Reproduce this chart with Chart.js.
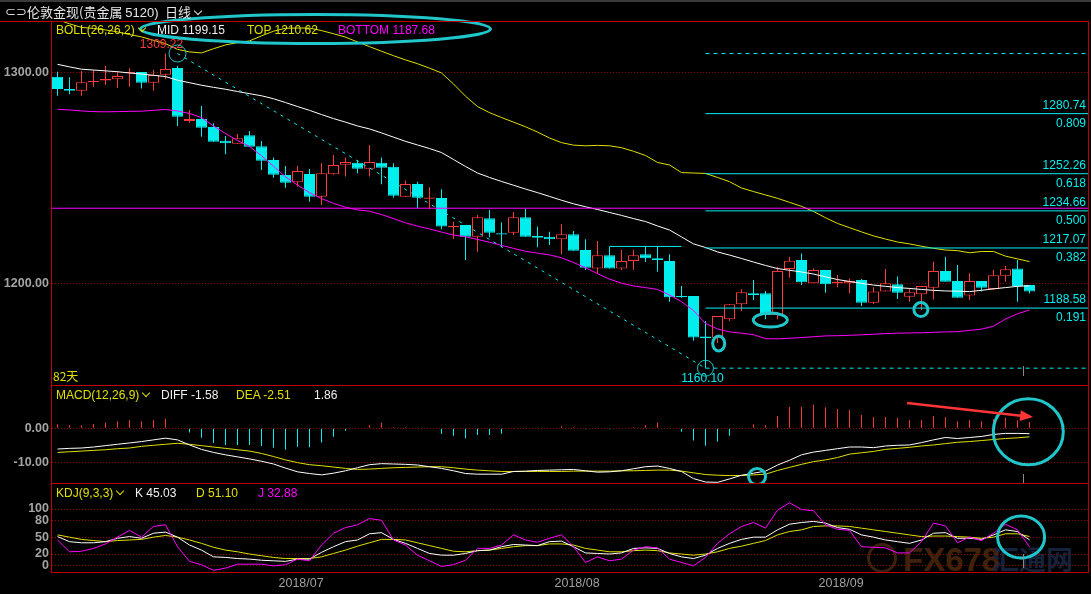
<!DOCTYPE html>
<html>
<head>
<meta charset="utf-8">
<script src="https://cdn.jsdelivr.net/npm/chart.js@4.4.1/dist/chart.umd.min.js"></script>
<style>
  body { margin: 0; background: #000; width: 1091px; height: 594px; overflow: hidden; position: relative;
         font-family: "Liberation Sans", Arial, sans-serif; }
  canvas { position: absolute; left: 0; }
  .t { position: absolute; font-size: 12px; line-height: 12px; white-space: nowrap; z-index: 6; }
  .ln { position: absolute; background: #c00000; z-index: 5; }
  .chev { display: inline-block; width: 5px; height: 5px; border-right: 1px solid currentColor;
          border-bottom: 1px solid currentColor; transform: rotate(45deg); margin: 0 0 3px 4px; }
  .wm { position: absolute; font-weight: bold; font-size: 33px; line-height: 33px; z-index: 1; }
</style>
</head>
<body>
<div style="position:absolute;left:0;top:0;width:1091px;height:2px;background:#3a3a3a"></div>
<div class="t" style="left:5px;top:5px;font-size:13px;line-height:14px;color:#d8d8d8">⊂⊃</div>
<div class="t" style="left:27px;top:5px;font-size:13px;line-height:14px;color:#e6e6e6;font-family:'Noto Sans CJK SC',sans-serif">伦敦金现(贵金属 <span style="font-family:'Liberation Sans',Arial">5120)</span></div>
<div class="t" style="left:165px;top:5px;font-size:13px;line-height:14px;color:#e6e6e6;font-family:'Noto Sans CJK SC',sans-serif">日线<span class="chev"></span></div>

<div class="wm" style="left:867px;top:543px;width:24px;height:24px;border:3px solid #3e200e;border-radius:50%;"></div>
<div class="wm" style="left:903px;top:543px;color:#40220c">FX678</div>
<div class="wm" style="left:992px;top:544px;color:#16223c;font-family:'Noto Sans CJK SC',sans-serif;font-size:27px;line-height:30px">汇通网</div>

<canvas id="cMain" width="1091" height="386" style="top:0;z-index:2"></canvas>
<canvas id="cMacd" width="1091" height="98" style="top:385px;z-index:2"></canvas>
<canvas id="cKdj" width="1091" height="111" style="top:483px;z-index:2"></canvas>

<div class="ln" style="left:0;top:21px;width:1089px;height:1px"></div>
<div class="ln" style="left:51px;top:21px;width:1px;height:552px"></div>
<div class="ln" style="left:1088px;top:21px;width:1px;height:552px"></div>
<div class="ln" style="left:51px;top:385px;width:1038px;height:1px"></div>
<div class="ln" style="left:51px;top:483px;width:1038px;height:1px"></div>
<div class="ln" style="left:51px;top:572px;width:1038px;height:1px"></div>
<div class="ln" style="left:1023px;top:366px;width:1px;height:10px;background:#8a8a8a"></div>
<div class="ln" style="left:1023px;top:474px;width:1px;height:9px;background:#8a8a8a"></div>
<div class="ln" style="left:1023px;top:554px;width:1px;height:14px;background:#8a8a8a"></div>

<div class="t" style="left:56px;top:24px;color:#e0e000">BOLL(26,26,2)<span class="chev"></span></div>
<div class="t" style="left:157px;top:24px;color:#f0f0f0">MID 1199.15</div>
<div class="t" style="left:247px;top:24px;color:#e0e000">TOP 1210.62</div>
<div class="t" style="left:338px;top:24px;color:#ff00ff">BOTTOM 1187.68</div>
<div class="t" style="left:53px;top:370px;color:#e0e000;font-family:'Noto Sans CJK SC',sans-serif">82天</div>

<div class="t" style="left:56px;top:389px;color:#e0e000">MACD(12,26,9)<span class="chev"></span></div>
<div class="t" style="left:161px;top:389px;color:#f0f0f0">DIFF -1.58</div>
<div class="t" style="left:236px;top:389px;color:#e0e000">DEA -2.51</div>
<div class="t" style="left:314px;top:389px;color:#f0f0f0">1.86</div>

<div class="t" style="left:56px;top:487px;color:#e0e000">KDJ(9,3,3)<span class="chev"></span></div>
<div class="t" style="left:135px;top:487px;color:#f0f0f0">K 45.03</div>
<div class="t" style="left:196px;top:487px;color:#e0e000">D 51.10</div>
<div class="t" style="left:258px;top:487px;color:#ff00ff">J 32.88</div>

<script>
const candleOpen = [1298.2, 1292.4, 1291.6, 1295.7, 1296.4, 1297.0, 1299.9, 1300.5, 1295.4, 1299.2,
  1302.4, 1277.3, 1278.2, 1274.4, 1267.9, 1266.5, 1270.5, 1265.3, 1258.8, 1251.7,
  1248.2, 1252.1, 1241.4, 1252.0, 1256.5, 1257.5, 1254.6, 1257.5, 1255.6, 1241.4,
  1247.4, 1240.4, 1240.8, 1226.9, 1228.0, 1222.4, 1231.1, 1224.0, 1224.3, 1231.6,
  1222.7, 1222.4, 1221.2, 1223.6, 1216.1, 1207.4, 1213.6, 1207.4, 1210.9, 1214.1,
  1212.2, 1210.9, 1194.3, 1194.3, 1175.1, 1174.5, 1183.3, 1190.4, 1195.6, 1195.6,
  1185.3, 1207.1, 1211.4, 1200.3, 1206.6, 1200.3, 1200.3, 1201.9, 1191.1, 1196.4,
  1199.9, 1194.0, 1195.1, 1198.2, 1206.2, 1201.4, 1194.5, 1201.4, 1197.6, 1203.9,
  1207.4, 1199.5];
const candleHigh = [1300.6, 1298.0, 1301.0, 1301.4, 1303.3, 1301.0, 1302.2, 1300.5, 1301.4, 1309.22,
  1303.3, 1282.5, 1284.4, 1276.2, 1270.1, 1271.1, 1272.5, 1267.8, 1260.0, 1255.9,
  1255.9, 1254.5, 1257.2, 1261.1, 1260.0, 1258.8, 1265.9, 1260.0, 1257.2, 1249.0,
  1248.5, 1245.8, 1244.9, 1229.5, 1228.0, 1232.7, 1235.1, 1229.2, 1234.1, 1235.5,
  1227.2, 1224.8, 1228.3, 1225.1, 1221.2, 1220.4, 1217.7, 1216.1, 1216.1, 1217.7,
  1217.7, 1214.1, 1199.1, 1194.3, 1182.5, 1184.8, 1190.4, 1197.5, 1201.9, 1196.7,
  1208.2, 1212.9, 1214.5, 1207.4, 1206.6, 1204.3, 1202.7, 1202.4, 1198.4, 1207.1,
  1203.5, 1198.0, 1199.1, 1210.6, 1212.9, 1209.0, 1205.1, 1201.4, 1206.6, 1208.5,
  1211.4, 1199.5];
const candleLow = [1289.2, 1289.9, 1289.2, 1293.5, 1294.3, 1293.0, 1293.5, 1292.7, 1291.6, 1297.0,
  1274.9, 1276.4, 1269.8, 1267.4, 1261.5, 1266.5, 1265.1, 1254.0, 1250.4, 1245.6,
  1246.1, 1239.0, 1237.4, 1251.8, 1250.9, 1252.5, 1250.9, 1247.3, 1240.9, 1241.4,
  1235.9, 1235.4, 1225.9, 1221.3, 1211.4, 1215.3, 1222.1, 1217.4, 1223.2, 1222.4,
  1217.4, 1218.5, 1214.1, 1215.8, 1206.6, 1204.7, 1207.4, 1206.6, 1206.6, 1210.6,
  1205.8, 1191.6, 1193.5, 1173.1, 1160.1, 1172.0, 1182.5, 1187.2, 1192.4, 1183.3,
  1183.3, 1203.0, 1199.5, 1200.3, 1195.9, 1198.4, 1195.6, 1189.6, 1190.5, 1196.4,
  1192.9, 1191.6, 1187.7, 1192.7, 1201.1, 1193.5, 1192.4, 1196.4, 1197.2, 1201.1,
  1191.6, 1195.5];
const candleClose = [1292.4, 1291.6, 1295.6, 1296.2, 1297.2, 1298.6, 1300.5, 1295.4, 1299.1, 1301.9,
  1279.3, 1278.2, 1274.1, 1267.4, 1266.7, 1269.1, 1265.1, 1258.4, 1251.8, 1248.0,
  1253.6, 1241.4, 1252.5, 1256.4, 1257.8, 1254.6, 1257.8, 1255.1, 1241.8, 1247.4,
  1240.9, 1241.0, 1227.2, 1227.6, 1222.4, 1231.6, 1224.3, 1223.4, 1231.6, 1222.4,
  1221.9, 1221.2, 1223.6, 1215.8, 1207.7, 1213.6, 1207.4, 1210.9, 1213.6, 1212.2,
  1211.4, 1193.7, 1193.7, 1174.7, 1174.3, 1184.8, 1190.4, 1196.1, 1194.8, 1185.3,
  1206.2, 1211.0, 1200.8, 1206.6, 1199.9, 1201.1, 1201.4, 1191.1, 1196.4, 1200.3,
  1195.9, 1196.1, 1199.1, 1206.2, 1201.1, 1193.5, 1201.4, 1198.2, 1204.1, 1207.0,
  1199.1, 1196.4];

const bollMid = [1304.1, 1302.9, 1301.8, 1301.4, 1301.0, 1300.6, 1300.0, 1299.5, 1298.9, 1298.3,
  1296.6, 1295.4, 1294.2, 1293.2, 1292.3, 1291.2, 1290.2, 1289.2, 1287.8, 1286.0,
  1284.1, 1282.3, 1280.3, 1278.4, 1276.7, 1274.9, 1273.5, 1271.6, 1269.6, 1267.6,
  1265.9, 1264.2, 1262.3, 1259.0, 1255.7, 1252.6, 1250.5, 1248.6, 1246.8, 1245.0,
  1243.3, 1241.5, 1239.7, 1238.0, 1236.6, 1235.3, 1233.9, 1232.5, 1231.0, 1229.6,
  1227.5, 1225.6, 1222.3, 1219.0, 1217.3, 1215.2, 1213.7, 1212.1, 1210.4, 1208.8,
  1207.3, 1206.5, 1205.7, 1204.7, 1203.4, 1202.1, 1201.2, 1200.3, 1199.5, 1198.9,
  1198.3, 1197.9, 1197.4, 1197.0, 1196.7, 1196.6, 1196.4, 1197.0, 1197.7, 1198.3,
  1198.9, 1199.15];
const bollTop = [1325.4, 1323.3, 1321.6, 1321.1, 1320.4, 1319.5, 1318.2, 1317.1, 1315.5, 1313.9,
  1311.2, 1310.0, 1309.5, 1311.5, 1313.3, 1314.4, 1315.2, 1317.6, 1319.8, 1321.2,
  1321.3, 1321.3, 1320.1, 1318.6, 1317.0, 1314.7, 1312.5, 1310.3, 1308.2, 1306.2,
  1304.4, 1302.3, 1300.0, 1294.8, 1289.0, 1284.1, 1281.2, 1278.9, 1276.7, 1274.5,
  1272.0, 1269.2, 1267.0, 1265.8, 1265.5, 1265.7, 1265.5, 1264.6, 1262.9, 1260.9,
  1257.6, 1256.4, 1252.8, 1252.6, 1252.4, 1250.5, 1248.5, 1245.5, 1243.8, 1242.2,
  1240.6, 1238.7, 1236.8, 1234.4, 1231.4, 1228.7, 1226.7, 1224.7, 1222.8, 1221.3,
  1219.9, 1219.0, 1217.9, 1216.9, 1216.1, 1215.8, 1214.8, 1215.4, 1215.4, 1213.2,
  1211.9, 1210.62];
const bollBottom = [1282.8, 1282.5, 1282.0, 1281.7, 1281.6, 1281.7, 1281.8, 1281.9, 1282.3, 1282.7,
  1282.0, 1280.8, 1278.9, 1274.9, 1271.3, 1268.0, 1265.2, 1260.8, 1255.8, 1250.8,
  1246.9, 1243.3, 1240.5, 1238.2, 1236.4, 1235.1, 1234.5, 1232.9, 1231.0, 1229.0,
  1227.4, 1226.1, 1224.6, 1223.2, 1222.4, 1221.1, 1219.8, 1218.3, 1216.9, 1215.5,
  1214.6, 1213.8, 1212.4, 1210.2, 1207.7, 1204.9, 1202.3, 1200.4, 1199.1, 1198.3,
  1197.4, 1194.8, 1191.6, 1187.4, 1181.3, 1178.7, 1177.3, 1176.7, 1176.0, 1174.1,
  1174.0, 1174.3, 1174.6, 1175.0, 1175.4, 1175.5, 1175.7, 1175.9, 1176.2, 1176.5,
  1176.7, 1176.8, 1176.9, 1177.1, 1177.3, 1177.4, 1178.0, 1178.6, 1180.0, 1183.4,
  1185.9, 1187.68];

const macdDiff = [-6.1, -5.9, -5.8, -5.5, -5.1, -4.7, -4.3, -3.9, -3.4, -2.9,
  -3.4, -4.9, -6.2, -7.1, -7.8, -8.4, -9.0, -9.7, -10.5, -11.7,
  -12.8, -13.3, -13.7, -13.2, -12.5, -11.6, -10.7, -10.4, -10.5, -10.6,
  -10.8, -11.3, -11.8, -12.5, -13.3, -13.5, -13.5, -13.5, -12.7, -12.6,
  -12.4, -12.3, -12.2, -12.1, -12.5, -12.9, -12.8, -12.5, -11.9, -11.3,
  -11.1, -11.8, -12.7, -14.8, -15.8, -15.9, -14.9, -13.8, -13.2, -12.6,
  -10.8, -9.4, -7.8, -7.0, -6.5, -6.0, -5.5, -5.5, -5.7, -5.2,
  -5.0, -4.9, -4.2, -3.4, -2.7, -3.0, -2.7, -2.4, -1.8, -1.5,
  -1.5, -1.58];
const macdDea = [-7.1, -6.9, -6.7, -6.5, -6.3, -6.0, -5.8, -5.3, -5.0, -4.7,
  -4.4, -4.7, -5.1, -5.5, -5.9, -6.3, -6.7, -7.4, -8.3, -9.3,
  -10.1, -10.7, -11.0, -11.4, -11.8, -12.1, -12.0, -11.8, -11.6, -11.5,
  -11.4, -11.3, -11.3, -11.6, -12.0, -12.3, -12.5, -12.7, -12.7, -12.7,
  -12.7, -12.7, -12.7, -12.6, -12.6, -12.6, -12.6, -12.5, -12.5, -12.4,
  -12.3, -12.3, -12.6, -13.1, -13.6, -13.8, -13.9, -13.9, -13.7, -13.5,
  -12.4, -11.5, -10.6, -9.8, -9.3, -8.6, -7.6, -7.2, -6.8, -6.2,
  -5.9, -5.6, -5.2, -4.9, -4.5, -4.1, -3.9, -3.6, -3.3, -3.0,
  -2.8, -2.51];
const macdHist = [1.2, 0.9, 0.9, 1.3, 1.6, 2.1, 2.4, 2.1, 2.4, 2.8,
  0.2, -1.2, -2.8, -4.3, -4.9, -4.9, -4.9, -5.2, -5.7, -6.3,
  -5.4, -5.6, -4.2, -2.5, -0.7, -0.1, 1.0, 1.6, 0.4, 0.4,
  0.1, 0.0, -1.7, -2.2, -2.9, -2.0, -2.0, -1.6, -0.2, -0.2,
  0.1, 0.2, 0.6, 0.4, -0.3, -0.2, -0.3, -0.1, 0.4, 1.0,
  1.6, -0.2, -1.0, -3.6, -5.1, -3.9, -2.2, -0.2, 1.2, 0.9,
  3.6, 6.3, 6.3, 6.9, 6.2, 5.7, 5.4, 3.9, 3.3, 3.3,
  3.0, 2.4, 2.4, 3.6, 3.3, 2.1, 2.4, 2.1, 2.7, 3.0,
  2.4, 1.86];

const kdjK = [51, 42, 40, 40, 42, 48, 51, 48, 57, 59,
  50, 36, 27, 15, 14, 12, 11, 9, 8, 7,
  11, 11, 23, 33, 42, 45, 56, 58, 46, 39,
  30, 21, 18, 18, 21, 26, 27, 33, 37, 36,
  35, 42, 43, 33, 22, 21, 20, 22, 30, 31,
  30, 21, 15, 12, 18, 30, 39, 46, 50, 50,
  63, 73, 76, 78, 75, 67, 64, 54, 50, 45,
  42, 39, 45, 57, 58, 48, 48, 46, 54, 63,
  60, 45.03];
const kdjD = [54, 50, 46, 44, 42, 44, 45, 46, 50, 53,
  50, 45, 39, 32, 27, 24, 20, 17, 14, 12,
  12, 12, 15, 21, 27, 34, 40, 46, 46, 45,
  40, 35, 30, 25, 24, 26, 27, 30, 33, 35,
  35, 38, 38, 36, 30, 27, 24, 24, 26, 27,
  26, 22, 20, 18, 20, 24, 30, 34, 39, 44,
  54, 60, 63, 69, 70, 70, 69, 66, 63, 60,
  57, 54, 51, 52, 52, 51, 50, 48, 50, 56,
  56, 51.10];
const kdjJ = [45, 24, 25, 30, 38, 50, 62, 50, 69, 72,
  33, 7, 1, -9, -5, 2, 2, 2, -1, 1,
  11, 8, 36, 57, 67, 72, 83, 80, 45, 36,
  18, 8, -2, 1, 9, 30, 30, 36, 54, 45,
  41, 48, 54, 33, 5, 15, 8, 11, 27, 33,
  31, 11, 5, -1, 14, 39, 56, 69, 76, 66,
  98, 111, 99, 97, 72, 64, 62, 33, 32, 31,
  22, 22, 42, 75, 70, 40, 50, 44, 57, 73,
  63, 32.88];

const dateTicks = [20.3, 43.3, 65.3];
const dateLabels = ['2018/07', '2018/08', '2018/09'];
const priceTicks = [1200, 1300];
const macdTicks = [-10, 0];
const kdjTicks = [0, 20, 50, 80, 100];

const fibHigh = 1309.22;
const fibLow = 1160.10;
const fibPrices = [1188.58, 1217.07, 1234.66, 1252.26, 1280.74];
const fibRatios = ['0.191', '0.382', '0.500', '0.618', '0.809'];
const fibHighIndex = 10;
const fibLowIndex = 54;
const boxLevel = 1217.8;
const boxFrom = 46, boxTo = 52;
const magentaLevel = 1235.9;

const FONT = '"Liberation Sans", Arial, sans-serif';
const RED = '#ff3b3b';
const CYAN = '#00eeee';
const MARK = '#20c6ca';
const X_MIN = -5.5 / 12;
const X_MAX = X_MIN + 1036 / 12;

Chart.defaults.font.family = FONT;

const idx = candleOpen.map((_, i) => i);
const isUp = idx.map(i => candleClose[i] >= candleOpen[i]);

function xAxis(show) {
  const ax = {
    type: 'linear', min: X_MIN, max: X_MAX, display: show, offset: false,
    grid: { display: false, offset: false }, border: { display: false }
  };
  if (show) {
    ax.afterFit = s => { s.height = 22; s.paddingLeft = 0; s.paddingRight = 0; };
    ax.afterBuildTicks = s => { s.ticks = dateTicks.map(v => ({ value: v })); };
    ax.ticks = { color: '#a0a0a0', font: { size: 12.5 }, padding: -4, maxRotation: 0, autoSkip: false,
                 callback: (v, i) => dateLabels[i] };
  }
  return ax;
}

function yAxis(min, max, ticks, fmt) {
  return {
    position: 'left', min: min, max: max,
    afterFit: s => { s.width = 52; s.paddingTop = 0; s.paddingBottom = 0; },
    afterBuildTicks: s => { s.ticks = ticks.map(v => ({ value: v })); },
    ticks: { color: '#a4a4a4', font: { size: 12.5, weight: 'bold' }, padding: 3, callback: v => fmt(v) },
    grid: { color: '#8c0000', drawTicks: false, lineWidth: 1 },
    border: { display: false, dash: [1, 2] }
  };
}

function series(arr, color, order) {
  return { type: 'line', data: arr.map((v, i) => ({ x: i, y: v })), borderColor: color, borderWidth: 1,
           pointRadius: 0, tension: 0, order: order };
}

function segment(x0, x1, y0, y1, color, dash, order) {
  return { type: 'line', data: [{ x: x0, y: y0 }, { x: x1, y: y1 }], borderColor: color, borderWidth: 1,
           borderDash: dash, pointRadius: 0, tension: 0, order: order };
}

function ellipse(ctx, chart, m) {
  const x = chart.scales.x.getPixelForValue(m.x);
  const y = chart.scales.y.getPixelForValue(m.y);
  ctx.beginPath();
  ctx.ellipse(x, y, m.rx, m.ry, 0, 0, Math.PI * 2);
  ctx.lineWidth = m.w;
  ctx.strokeStyle = MARK;
  ctx.stroke();
}

const baseOptions = (scales, padTop, padBottom) => ({
  responsive: false, animation: false, events: [],
  layout: { padding: { top: padTop, bottom: padBottom, right: 3, left: 0 } },
  plugins: { legend: { display: false }, tooltip: { enabled: false } },
  scales: scales
});

// ---------- main panel: candles + BOLL + fib ----------
const mainMarks = [
  { x: 21.5, y: 1320.9, rx: 175, ry: 14.5, w: 3 },
  { x: 59.4, y: 1182.9, rx: 17, ry: 7, w: 3 },
  { x: 55.1, y: 1171.8, rx: 6, ry: 7.5, w: 3 },
  { x: 71.95, y: 1187.9, rx: 7, ry: 7, w: 3 },
  { x: fibHighIndex, y: fibHigh, rx: 8.5, ry: 8.5, w: 1 },
  { x: fibLowIndex, y: fibLow, rx: 8, ry: 8, w: 1 }
];

const mainPlugin = {
  id: 'mainMarks',
  afterDatasetsDraw(chart) {
    const ctx = chart.ctx, xs = chart.scales.x, ys = chart.scales.y;
    ctx.save();
    ctx.font = '12px ' + FONT;
    ctx.textBaseline = 'middle';
    ctx.textAlign = 'right';
    ctx.fillStyle = CYAN;
    const right = chart.chartArea.right - 2;
    fibPrices.forEach((p, i) => {
      const y = ys.getPixelForValue(p);
      ctx.fillText(p.toFixed(2), right, y - 8);
      ctx.fillText(fibRatios[i], right, y + 10);
    });
    ctx.textAlign = 'center';
    ctx.fillStyle = RED;
    ctx.fillText(fibHigh.toFixed(2), xs.getPixelForValue(fibHighIndex) - 16, ys.getPixelForValue(fibHigh) - 9);
    ctx.fillStyle = CYAN;
    ctx.fillText(fibLow.toFixed(2), xs.getPixelForValue(fibLowIndex) - 3, ys.getPixelForValue(fibLow) + 11);
    mainMarks.forEach(m => ellipse(ctx, chart, m));
    ctx.restore();
  }
};

const fibSets = [fibHigh, fibLow].map(p => segment(fibLowIndex, X_MAX, p, p, CYAN, [4, 4], 0))
  .concat(fibPrices.map(p => segment(fibLowIndex, X_MAX, p, p, CYAN, [], 0)));

new Chart(document.getElementById('cMain'), {
  type: 'bar',
  data: {
    datasets: [
      {
        type: 'bar', data: idx.map(i => ({ x: i, y: [candleLow[i], candleHigh[i]] })),
        backgroundColor: idx.map(i => isUp[i] ? RED : CYAN), borderWidth: 0,
        barThickness: 1, grouped: false, inflateAmount: 0, order: 5
      },
      {
        type: 'bar', data: idx.map(i => ({ x: i, y: [candleOpen[i], candleClose[i]] })),
        backgroundColor: idx.map(i => isUp[i] ? '#000000' : CYAN),
        borderColor: idx.map(i => isUp[i] ? RED : CYAN), borderWidth: 1, borderSkipped: false,
        barThickness: 11, grouped: false, inflateAmount: 0, minBarLength: 1, order: 4
      },
      series(bollTop, '#e0e000', 2),
      series(bollMid, '#ffffff', 2),
      series(bollBottom, '#ff00ff', 2),
      segment(X_MIN, X_MAX, magentaLevel, magentaLevel, '#ff00ff', [], 1),
      segment(boxFrom, boxTo, boxLevel, boxLevel, CYAN, [], 1),
      segment(fibHighIndex, fibLowIndex, fibHigh, fibLow, CYAN, [3, 5], 1)
    ].concat(fibSets)
  },
  options: baseOptions({ x: xAxis(false), y: yAxis(1152.13, 1324.64, priceTicks, v => v.toFixed(2)) }, 21, 1),
  plugins: [mainPlugin]
});

// ---------- MACD panel ----------
const macdPlugin = {
  id: 'macdMarks',
  afterDatasetsDraw(chart) {
    const ctx = chart.ctx, xs = chart.scales.x, ys = chart.scales.y;
    ctx.save();
    ellipse(ctx, chart, { x: 80.9, y: -1.0, rx: 35, ry: 33, w: 3 });
    ellipse(ctx, chart, { x: 58.3, y: -14.2, rx: 8.5, ry: 8, w: 3 });
    const x0 = xs.getPixelForValue(70.8), y0 = ys.getPixelForValue(7.45);
    const x1 = xs.getPixelForValue(81.3), y1 = ys.getPixelForValue(3.3);
    const a = Math.atan2(y1 - y0, x1 - x0);
    ctx.strokeStyle = '#ff3434';
    ctx.fillStyle = '#ff3434';
    ctx.lineWidth = 2.5;
    ctx.beginPath();
    ctx.moveTo(x0, y0);
    ctx.lineTo(x1 - 10 * Math.cos(a), y1 - 10 * Math.sin(a));
    ctx.stroke();
    ctx.beginPath();
    ctx.moveTo(x1, y1);
    ctx.lineTo(x1 - 13 * Math.cos(a) + 5.5 * Math.sin(a), y1 - 13 * Math.sin(a) - 5.5 * Math.cos(a));
    ctx.lineTo(x1 - 13 * Math.cos(a) - 5.5 * Math.sin(a), y1 - 13 * Math.sin(a) + 5.5 * Math.cos(a));
    ctx.closePath();
    ctx.fill();
    ctx.restore();
  }
};

new Chart(document.getElementById('cMacd'), {
  type: 'bar',
  data: {
    datasets: [
      {
        type: 'bar', data: macdHist.map((v, i) => ({ x: i, y: v })),
        backgroundColor: macdHist.map(v => v >= 0 ? '#ff3434' : CYAN), borderWidth: 0,
        barThickness: 1, grouped: false, inflateAmount: 0, order: 3
      },
      series(macdDea, '#e0e000', 2),
      series(macdDiff, '#ffffff', 1)
    ]
  },
  options: baseOptions({ x: xAxis(false), y: yAxis(-16.09, 12.74, macdTicks, v => v.toFixed(2)) }, 0, 0),
  plugins: [macdPlugin]
});

// ---------- KDJ panel ----------
const kdjPlugin = {
  id: 'kdjMarks',
  afterDatasetsDraw(chart) {
    const ctx = chart.ctx;
    ctx.save();
    ellipse(ctx, chart, { x: 80.3, y: 50.3, rx: 23.5, ry: 21, w: 3 });
    ctx.restore();
  }
};

new Chart(document.getElementById('cKdj'), {
  type: 'line',
  data: {
    datasets: [
      series(kdjD, '#e0e000', 3),
      series(kdjK, '#ffffff', 2),
      series(kdjJ, '#ff00ff', 1)
    ]
  },
  options: baseOptions({ x: xAxis(true), y: yAxis(-11.9, 146.2, kdjTicks, v => String(v)) }, 0, 0),
  plugins: [kdjPlugin]
});
</script>
</body>
</html>
